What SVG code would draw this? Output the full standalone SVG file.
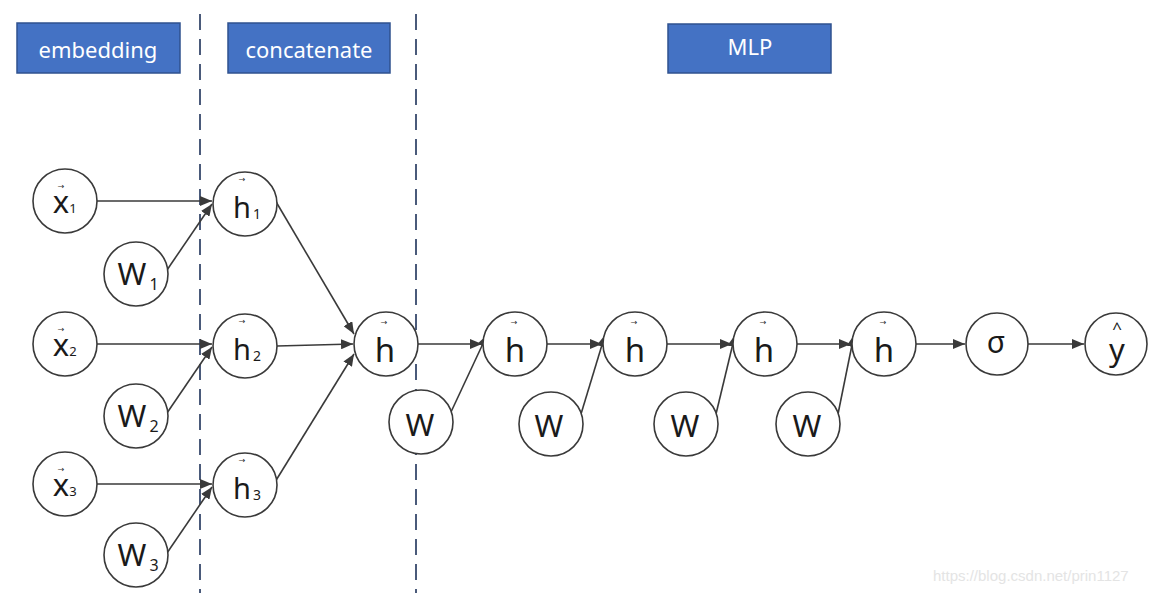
<svg xmlns="http://www.w3.org/2000/svg" width="1150" height="593" viewBox="0 0 1150 593">
<defs>
<marker id="ah" viewBox="0 0 12 10" refX="12" refY="5" markerWidth="12" markerHeight="10" markerUnits="userSpaceOnUse" orient="auto">
<path d="M0,0 L12,5 L0,10 Z" fill="#3a3a3a"/>
</marker>
</defs>
<style>
.box{fill:#4472C4;stroke:#2F528F;stroke-width:1.5}
.bt{font-family:"Noto Sans","Liberation Sans",sans-serif;font-size:22px;fill:#fff;text-anchor:middle}
.n circle{fill:#fff;stroke:#3a3a3a;stroke-width:1.6}
.lb{font-family:"Noto Sans","Liberation Sans",sans-serif;font-size:31px;fill:#1a1a1a;text-anchor:middle}
.hs{font-size:29px}
.hb{font-size:33px}
.sx{font-size:13px}
.sw{font-size:16px}
.sh{font-size:14px}
.vec{font-family:"DejaVu Sans",sans-serif;font-size:8px;fill:#333}
.c line{stroke:#3a3a3a;stroke-width:1.6;marker-end:url(#ah)}
.dash{stroke:#4a5a7a;stroke-width:2;stroke-dasharray:16 9}
.wm{font-family:"Liberation Sans",sans-serif;font-size:15px;fill:#e4e4e4}
</style>
<rect width="1150" height="593" fill="#fff"/>
<line class="dash" x1="200" y1="14" x2="200" y2="593"/>
<line class="dash" x1="416" y1="14" x2="416" y2="593"/>
<g id="box-embedding"><rect class="box" x="17" y="23" width="163" height="50"/><text class="bt" x="98" y="58">embedding</text></g>
<g id="box-concatenate"><rect class="box" x="228" y="23" width="162" height="50"/><text class="bt" x="309" y="58">concatenate</text></g>
<g id="box-mlp"><rect class="box" x="668" y="24" width="163" height="49"/><text class="bt" x="750" y="55">MLP</text></g>
<g class="c" id="connectors">
<line x1="97" y1="201" x2="212" y2="201"/>
<line x1="167" y1="270" x2="212" y2="204"/>
<line x1="97" y1="344" x2="212" y2="344"/>
<line x1="167" y1="413" x2="212" y2="347"/>
<line x1="97" y1="484" x2="212" y2="484"/>
<line x1="167" y1="553" x2="212" y2="487"/>
<line x1="275" y1="200" x2="354" y2="334"/>
<line x1="277" y1="346" x2="353" y2="344"/>
<line x1="275" y1="482" x2="354" y2="354"/>
<line x1="418" y1="344" x2="482" y2="344"/>
<line x1="451" y1="412" x2="487" y2="335"/>
<line x1="547" y1="344" x2="602" y2="344"/>
<line x1="581" y1="414" x2="605" y2="335"/>
<line x1="667" y1="344" x2="732" y2="344"/>
<line x1="716" y1="414" x2="735" y2="335"/>
<line x1="797" y1="344" x2="851" y2="344"/>
<line x1="838" y1="414" x2="854" y2="335"/>
<line x1="916" y1="344" x2="965" y2="344"/>
<line x1="1028" y1="344" x2="1084" y2="344"/>
</g>
<g class="n" id="node-x1"><circle cx="65" cy="201" r="32"/><text class="lb" x="61" y="213">x<tspan class="vec" x="61" y="189">→</tspan><tspan class="sx" x="73" y="213">1</tspan></text></g>
<g class="n" id="node-w1"><circle cx="136" cy="274" r="32"/><text class="lb" x="132" y="285">W<tspan class="sw" x="154" y="290">1</tspan></text></g>
<g class="n" id="node-h1"><circle cx="245" cy="204" r="32"/><text class="lb hs" x="242" y="218">h<tspan class="vec" x="242" y="182">→</tspan><tspan class="sh" x="257" y="219">1</tspan></text></g>
<g class="n" id="node-x2"><circle cx="65" cy="344" r="32"/><text class="lb" x="61" y="356">x<tspan class="vec" x="61" y="332">→</tspan><tspan class="sx" x="73" y="356">2</tspan></text></g>
<g class="n" id="node-w2"><circle cx="136" cy="416" r="32"/><text class="lb" x="132" y="427">W<tspan class="sw" x="154" y="432">2</tspan></text></g>
<g class="n" id="node-h2"><circle cx="245" cy="346" r="32"/><text class="lb hs" x="242" y="360">h<tspan class="vec" x="242" y="324">→</tspan><tspan class="sh" x="257" y="361">2</tspan></text></g>
<g class="n" id="node-x3"><circle cx="65" cy="484" r="32"/><text class="lb" x="61" y="496">x<tspan class="vec" x="61" y="472">→</tspan><tspan class="sx" x="73" y="496">3</tspan></text></g>
<g class="n" id="node-w3"><circle cx="136" cy="555" r="32"/><text class="lb" x="132" y="566">W<tspan class="sw" x="154" y="571">3</tspan></text></g>
<g class="n" id="node-h3"><circle cx="245" cy="485" r="32"/><text class="lb hs" x="242" y="499">h<tspan class="vec" x="242" y="463">→</tspan><tspan class="sh" x="257" y="500">3</tspan></text></g>
<g class="n" id="node-h"><circle cx="386" cy="344" r="32"/><text class="lb hb" x="385" y="362">h<tspan class="vec" x="384" y="325">→</tspan></text></g>
<g class="n" id="node-wa"><circle cx="421" cy="422" r="32"/><text class="lb" x="420" y="436">W</text></g>
<g class="n" id="node-ha"><circle cx="515" cy="344" r="32"/><text class="lb hb" x="515" y="362">h<tspan class="vec" x="514" y="325">→</tspan></text></g>
<g class="n" id="node-wb"><circle cx="551" cy="424" r="32"/><text class="lb" x="549" y="437">W</text></g>
<g class="n" id="node-hb"><circle cx="635" cy="344" r="32"/><text class="lb hb" x="635" y="362">h<tspan class="vec" x="634" y="325">→</tspan></text></g>
<g class="n" id="node-wc"><circle cx="686" cy="424" r="32"/><text class="lb" x="685" y="437">W</text></g>
<g class="n" id="node-hc"><circle cx="765" cy="344" r="32"/><text class="lb hb" x="764" y="362">h<tspan class="vec" x="763" y="325">→</tspan></text></g>
<g class="n" id="node-wd"><circle cx="808" cy="424" r="32"/><text class="lb" x="807" y="437">W</text></g>
<g class="n" id="node-hd"><circle cx="884" cy="344" r="32"/><text class="lb hb" x="884" y="362">h<tspan class="vec" x="883" y="325">→</tspan></text></g>
<g class="n" id="node-sigma"><circle cx="997" cy="344" r="31"/><text class="lb" x="996" y="353" style="font-size:30px">σ</text></g>
<g class="n" id="node-yhat"><circle cx="1116" cy="344" r="31"/><text class="lb" x="1117" y="361">y<tspan x="1117" y="334" style="font-size:17px">^</tspan></text></g>
<text class="wm" x="933" y="581">https://blog.csdn.net/prin1127</text>
</svg>
